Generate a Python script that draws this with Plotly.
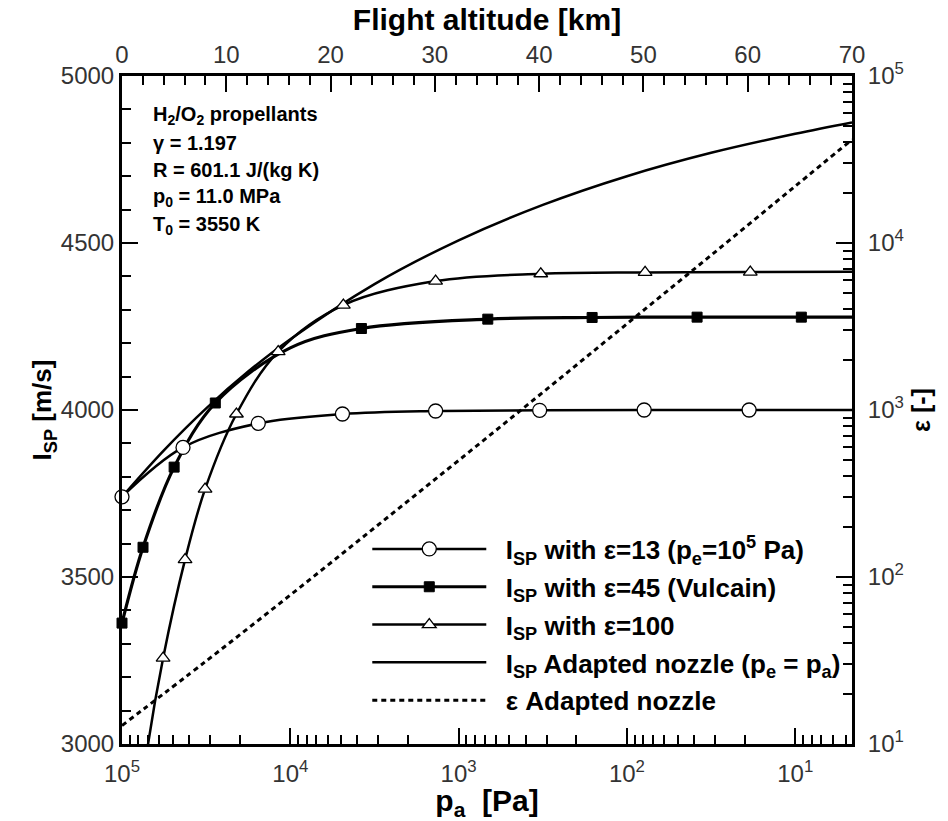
import plotly.graph_objects as go

# ---------------- data ----------------
# epsilon = 13 nozzle (pe = 1e5 Pa): all points carry markers
p_e13 = [100000, 43400, 15500, 4900, 1370, 330, 79, 18.8, 4.6]
isp_e13 = [3740, 3888, 3960, 3988, 3997, 3999, 4000, 4000, 4000]

# epsilon = 45 (Vulcain)
p_e45 = [100000, 75000, 49000, 27900, 10000, 3780, 671, 161, 38.3, 9.2, 4.6]
isp_e45 = [3362, 3589, 3829, 4021, 4186, 4244, 4272, 4277, 4278, 4278, 4278]
mk_e45 = [True, True, True, True, False, True, True, True, True, True, False]

# epsilon = 100
p_e100 = [100000, 70000, 57000, 42200, 32100, 20900, 11800, 4840, 1370, 325, 78, 18.5, 4.6]
isp_e100 = [2390, 3000, 3257, 3552, 3763, 3988, 4175, 4314, 4386, 4408, 4412, 4413, 4414]
mk_e100 = [False, False, True, True, True, True, True, True, True, True, True, True, True]

# adapted nozzle (pe = pa)
p_ad = [100000, 56200, 31600, 17800, 10000, 3160, 1000, 316, 100, 31.6, 10, 4.6]
isp_ad = [3740, 3880, 4005, 4115, 4212, 4377, 4508, 4614, 4700, 4770, 4827, 4861]

# expansion ratio of the adapted nozzle (right axis)
p_eps = [100000, 31600, 10000, 3160, 1000, 316, 100, 31.6, 10, 4.6]
eps_ad = [12.9, 31.4, 78, 197, 499, 1275, 3280, 8450, 21900, 41600]

legend_names = [
    "\u00a0\u00a0I<sub>SP</sub> with ε=13 (p<sub>e</sub>=10<sup>5</sup> Pa)",
    "\u00a0\u00a0I<sub>SP</sub> with ε=45 (Vulcain)",
    "\u00a0\u00a0I<sub>SP</sub> with ε=100",
    "\u00a0\u00a0I<sub>SP</sub> Adapted nozzle (p<sub>e</sub> = p<sub>a</sub>)",
    "\u00a0\u00a0ε Adapted nozzle",
]
info_lines = [
    "H<sub>2</sub>/O<sub>2</sub> propellants",
    "γ = 1.197",
    "R = 601.1 J/(kg K)",
    "p<sub>0</sub> = 11.0 MPa",
    "T<sub>0</sub> = 3550 K",
]
alt_range = [0, 70]
isp_range = [3000, 5000]
pa_ticks = [1e5, 1e4, 1e3, 1e2, 1e1]
pa_ticktext = ["10<sup>5</sup>", "10<sup>4</sup>", "10<sup>3</sup>", "10<sup>2</sup>", "10<sup>1</sup>"]
eps_ticks = [1e1, 1e2, 1e3, 1e4, 1e5]
eps_ticktext = ["10<sup>1</sup>", "10<sup>2</sup>", "10<sup>3</sup>", "10<sup>4</sup>", "10<sup>5</sup>"]

# ---------------- figure ----------------
FONT = "Liberation Sans"
BLK = "black"
fig = go.Figure()

def sel(xs, flags):
    return [v for v, f in zip(xs, flags) if f]

# lines
fig.add_trace(go.Scatter(x=p_e13, y=isp_e13, mode="lines", line=dict(color=BLK, width=2.5, shape="spline"),
                         showlegend=False, hoverinfo="skip"))
fig.add_trace(go.Scatter(x=p_e45, y=isp_e45, mode="lines", line=dict(color=BLK, width=3.2, shape="spline"),
                         showlegend=False, hoverinfo="skip"))
fig.add_trace(go.Scatter(x=p_e100, y=isp_e100, mode="lines", line=dict(color=BLK, width=2.5, shape="spline"),
                         showlegend=False, hoverinfo="skip"))
fig.add_trace(go.Scatter(x=p_ad, y=isp_ad, mode="lines", line=dict(color=BLK, width=2.5, shape="spline"),
                         showlegend=False, hoverinfo="skip"))
fig.add_trace(go.Scatter(x=p_eps, y=eps_ad, mode="lines", yaxis="y2",
                         line=dict(color=BLK, width=3, dash="5px,4px", shape="spline"),
                         showlegend=False, hoverinfo="skip"))

circ = dict(symbol="circle", size=14, color="white", line=dict(color=BLK, width=1.3))
sq = dict(symbol="square", size=10, color=BLK, line=dict(color=BLK, width=1))
tri = dict(symbol="triangle-up", size=12, color="white", line=dict(color=BLK, width=1.3))

# markers
fig.add_trace(go.Scatter(x=p_e13, y=isp_e13, mode="markers", marker=circ, cliponaxis=False,
                         showlegend=False, hoverinfo="skip"))
fig.add_trace(go.Scatter(x=sel(p_e45, mk_e45), y=sel(isp_e45, mk_e45), mode="markers", marker=sq,
                         cliponaxis=False, showlegend=False, hoverinfo="skip"))
fig.add_trace(go.Scatter(x=sel(p_e100, mk_e100), y=sel(isp_e100, mk_e100), mode="markers", marker=tri,
                         cliponaxis=False, showlegend=False, hoverinfo="skip"))

# legend entries
leg_styles = [
    dict(mode="lines+markers", line=dict(color=BLK, width=2.5), marker=circ),
    dict(mode="lines+markers", line=dict(color=BLK, width=3.2), marker=sq),
    dict(mode="lines+markers", line=dict(color=BLK, width=2.5), marker=tri),
    dict(mode="lines", line=dict(color=BLK, width=2.5)),
    dict(mode="lines", line=dict(color=BLK, width=3, dash="5px,4px")),
]
for i, (name, st) in enumerate(zip(legend_names, leg_styles)):
    fig.add_trace(go.Scatter(x=[None], y=[None], name=name, legendgroup=f"g{i}", **st))

# dummy trace so the top altitude axis is drawn
fig.add_trace(go.Scatter(x=alt_range, y=[None, None], xaxis="x2", mode="lines",
                         showlegend=False, hoverinfo="skip"))

tickfont = dict(family=FONT, size=24, color="#333")
common = dict(showline=True, linewidth=3, linecolor=BLK, ticks="inside", ticklen=16, tickwidth=2,
              tickcolor=BLK, showgrid=False, zeroline=False, tickfont=tickfont, automargin=False)
minor_common = dict(ticks="inside", ticklen=9, tickwidth=1.5, tickcolor=BLK)

fig.update_layout(
    width=948, height=821,
    margin=dict(l=122, r=96, t=76, b=77),
    paper_bgcolor="white", plot_bgcolor="white",
    font=dict(family=FONT, color=BLK),
    xaxis=dict(type="log", range=[5, 0.6628], tickvals=pa_ticks, ticktext=pa_ticktext,
               minor=dict(dtick="D1", **minor_common), ticklabelstandoff=6,
               title=dict(text="p<sub>a</sub>  [Pa]", font=dict(family=FONT, size=30, color=BLK, weight="bold"),
                          standoff=0), **common),
    xaxis2=dict(overlaying="x", side="top", anchor="y", range=alt_range, dtick=10,
                minor=dict(dtick=2, **minor_common),
                title=dict(text="Flight altitude [km]", font=dict(family=FONT, size=30, color=BLK, weight="bold"),
                           standoff=2), **common),
    yaxis=dict(range=isp_range, dtick=500,
               minor=dict(dtick=100, **minor_common),
               title=dict(text="I<sub>SP</sub> [m/s]", font=dict(family=FONT, size=26, color=BLK, weight="bold"),
                          standoff=2), **common),
    yaxis2=dict(type="log", overlaying="y", side="right", anchor="x", range=[1, 5],
                tickvals=eps_ticks, ticktext=eps_ticktext, ticklabelstandoff=8,
                minor=dict(dtick="D1", **minor_common),
                title=dict(text="ε [-]", font=dict(family=FONT, size=25, color=BLK, weight="bold"),
                           standoff=10), **common),
    legend=dict(x=0.336, y=0.327, xanchor="left", yanchor="top", bgcolor="rgba(0,0,0,0)",
                font=dict(family=FONT, size=26, color=BLK, weight="bold"), itemwidth=114, tracegroupgap=1,
                traceorder="grouped"),
    showlegend=True,
)

for i, txt in enumerate(info_lines):
    fig.add_annotation(xref="paper", yref="paper", x=0.04, y=0.9415 - i * 0.0412, text=txt,
                       showarrow=False, xanchor="left", yanchor="middle",
                       font=dict(family=FONT, size=20, color=BLK, weight="bold"))

fig.write_html("out.html", config={"displayModeBar": False},
               post_script="document.body.style.margin='0';")
